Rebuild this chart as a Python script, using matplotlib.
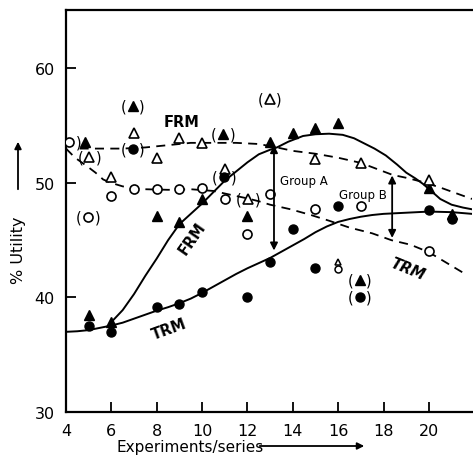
import matplotlib
matplotlib.use("Agg")
import matplotlib.pyplot as plt
import matplotlib.transforms as mtransforms
from matplotlib.patches import FancyArrowPatch

plt.rcParams['font.family'] = ['DejaVu Sans']

# ---------------- data ----------------
# filled triangles (FRM)
frm_fill_x = [4.85, 5, 6, 8, 9, 10, 12, 13, 14, 15, 16, 20, 21]
frm_fill_y = [53.55, 38.5, 37.9, 47.1, 46.6, 48.6, 47.1, 53.6, 54.4, 54.8, 55.2, 49.6, 47.3]
# filled circles (TRM)
trm_fill_x = [5, 6, 8, 9, 10, 12, 13, 14, 15, 16, 20, 21]
trm_fill_y = [37.5, 37.0, 39.2, 39.4, 40.5, 40.0, 43.1, 46.0, 42.6, 48.0, 47.6, 46.85]
# open triangles
frm_open_x = [6, 7, 8, 9, 10, 11, 15, 17, 20]
frm_open_y = [50.5, 54.4, 52.2, 53.9, 53.5, 51.2, 52.1, 51.75, 50.3]
# open circles
trm_open_x = [6, 7, 8, 9, 10, 11, 12, 13, 15, 17, 20]
trm_open_y = [48.9, 49.5, 49.5, 49.5, 49.6, 48.6, 45.5, 49.0, 47.7, 48.0, 44.1]
# small stacked open symbols at 16
small_tri_x, small_tri_y = [16], [43.1]
small_circ_x, small_circ_y = [16], [42.5]

# parenthesised (doubtful) points
par_fill_tri_x = [6.94, 10.93, 16.95]
par_fill_tri_y = [56.75, 54.3, 41.5]
par_fill_circ_x = [6.94, 10.97, 16.95]
par_fill_circ_y = [53.0, 50.5, 40.0]
par_open_tri_x = [5.03, 12.03, 12.99]
par_open_tri_y = [52.3, 48.6, 57.3]
par_open_circ_x = [4.98, 4.15]
par_open_circ_y = [47.0, 53.55]

# fitted curves
frm_dash_x = [4.6, 5.5, 6.5, 7.5, 8.5, 9.5, 10.5, 11.5, 12.5, 13.3, 14.0, 15.0, 16.0,
              17.0, 18.0, 18.4, 19.0, 19.7, 20.5, 21.2, 21.9]
frm_dash_y = [53.0, 53.0, 53.0, 53.1, 53.3, 53.5, 53.5, 53.5, 53.4, 53.1, 52.8, 52.55, 52.2,
              51.75, 51.0, 50.7, 50.45, 50.1, 49.6, 49.1, 48.6]
trm_dash_x = [4.0, 4.4, 4.9, 5.3, 5.64, 6.0, 6.5, 7.0, 7.5, 8.5, 9.5, 10.5, 11.4, 12.0,
              12.5, 13.0, 13.9, 14.8, 15.6, 16.5, 17.5, 18.35, 19.2, 20.0, 20.8, 21.6]
trm_dash_y = [53.0, 52.2, 51.5, 50.9, 50.3, 50.0, 49.7, 49.55, 49.45, 49.4, 49.45, 49.3,
              48.9, 48.65, 48.4, 48.1, 47.7, 47.2, 46.7, 46.1, 45.6, 45.0, 44.6, 43.95,
              43.0, 42.05]
trm_solid_x = [4.0, 4.5, 5.0, 5.5, 6.0, 6.5, 7.0, 7.5, 8.0, 8.5, 9.0, 9.5, 10.0, 10.5, 11.0,
               11.5, 12.0, 12.5, 13.0, 13.5, 14.0, 14.5, 15.0, 15.5, 16.0, 16.5, 17.0, 17.5,
               18.0, 19.0, 20.0, 21.0, 21.9]
trm_solid_y = [37.0, 37.05, 37.15, 37.35, 37.55, 37.8, 38.15, 38.5, 38.85, 39.15, 39.5,
               39.9, 40.4, 40.95, 41.5, 42.05, 42.55, 43.0, 43.45, 44.0, 44.55, 45.1, 45.7,
               46.2, 46.6, 46.85, 47.05, 47.2, 47.3, 47.4, 47.5, 47.45, 47.3]
frm_solid_x = [6.0, 6.5, 7.0, 7.5, 8.0, 8.5, 9.0, 9.5, 10.0, 10.5, 11.0, 11.5, 12.0, 12.5,
               13.0, 13.3, 13.8, 14.45, 15.0, 15.6, 16.2, 16.7, 17.2, 17.6, 18.1, 18.6,
               19.0, 19.4, 19.75, 20.1, 20.5, 21.0, 21.5, 21.9]
frm_solid_y = [37.85, 38.9, 40.3, 41.9, 43.4, 45.0, 46.4, 47.3, 48.2, 49.2, 50.2, 51.0,
               51.8, 52.5, 52.9, 53.1, 53.6, 54.1, 54.25, 54.3, 54.2, 53.9, 53.4, 53.0,
               52.4, 51.6, 50.9, 50.4, 49.9, 49.3, 48.6, 48.1, 47.85, 47.7]

group_a_x, group_a_y = [13.17, 13.17], [44.1, 53.3]
group_b_x, group_b_y = [18.38, 18.38], [45.2, 50.65]

x_ticks = [4, 6, 8, 10, 12, 14, 16, 18, 20]
y_ticks = [30, 40, 50, 60]

# ---------------- drawing ----------------
fig = plt.figure(figsize=(4.73, 4.64), dpi=100)
ax = fig.add_axes([66/473, 51/464, 406/473, 402/464])
ax.set_xlim(4, 21.9)
ax.set_ylim(30, 65.1)

lw = 1.4
dash = (0, (5, 3.5))
ax.plot(frm_dash_x, frm_dash_y, color='black', lw=1.3, linestyle=dash, zorder=2)
ax.plot(trm_dash_x, trm_dash_y, color='black', lw=1.3, linestyle=dash, zorder=2)
ax.plot(trm_solid_x, trm_solid_y, color='black', lw=lw, zorder=2)
ax.plot(frm_solid_x, frm_solid_y, color='black', lw=lw, zorder=2)

ms_t, ms_c = 7.5, 6.5
ax.plot(frm_fill_x, frm_fill_y, '^', color='black', ms=ms_t, ls='none', zorder=3)
ax.plot(trm_fill_x, trm_fill_y, 'o', color='black', ms=ms_c, ls='none', zorder=3)
ax.plot(frm_open_x, frm_open_y, '^', mfc='white', mec='black', mew=1.2, ms=ms_t, ls='none', zorder=3)
ax.plot(trm_open_x, trm_open_y, 'o', mfc='white', mec='black', mew=1.2, ms=ms_c, ls='none', zorder=3)
ax.plot(small_tri_x, small_tri_y, '^', mfc='white', mec='black', mew=1.1, ms=5, ls='none', zorder=3)
ax.plot(small_circ_x, small_circ_y, 'o', mfc='white', mec='black', mew=1.1, ms=5, ls='none', zorder=3)

ax.plot(par_fill_tri_x, par_fill_tri_y, '^', color='black', ms=ms_t, ls='none', zorder=3)
ax.plot(par_fill_circ_x, par_fill_circ_y, 'o', color='black', ms=ms_c, ls='none', zorder=3)
ax.plot(par_open_tri_x, par_open_tri_y, '^', mfc='white', mec='black', mew=1.2, ms=ms_t, ls='none', zorder=3)
ax.plot(par_open_circ_x, par_open_circ_y, 'o', mfc='white', mec='black', mew=1.2, ms=ms_c, ls='none', zorder=3)

left_off = mtransforms.offset_copy(ax.transData, fig=fig, x=-6.6, y=0, units='points')
right_off = mtransforms.offset_copy(ax.transData, fig=fig, x=6.6, y=0, units='points')
for xs, ys in [(par_fill_tri_x, par_fill_tri_y), (par_fill_circ_x, par_fill_circ_y),
               (par_open_tri_x, par_open_tri_y), (par_open_circ_x, par_open_circ_y)]:
    for x, y in zip(xs, ys):
        ax.text(x, y, '(', transform=left_off, ha='center', va='center', fontsize=10.5,
                clip_on=True, zorder=4)
        ax.text(x, y, ')', transform=right_off, ha='center', va='center', fontsize=10.5,
                clip_on=True, zorder=4)

# group arrows
for gx, gy in [(group_a_x, group_a_y), (group_b_x, group_b_y)]:
    ax.annotate('', xy=(gx[0], gy[0]), xytext=(gx[1], gy[1]),
                arrowprops=dict(arrowstyle='<|-|>', color='black', lw=1.3,
                                mutation_scale=11, shrinkA=0, shrinkB=0))
ax.text(13.45, 50.2, 'Group A', fontsize=8.5, ha='left', va='center')
ax.text(16.05, 49.0, 'Group B', fontsize=8.5, ha='left', va='center')

# curve labels
ax.text(9.09, 55.4, 'FRM', fontsize=10.5, fontweight='bold', ha='center', va='center')
ax.text(9.55, 45.2, 'FRM', fontsize=10.5, fontweight='bold', ha='center', va='center', rotation=55)
ax.text(8.55, 37.3, 'TRM', fontsize=10.5, fontweight='bold', ha='center', va='center', rotation=20)
ax.text(19.07, 42.5, 'TRM', fontsize=10.5, fontweight='bold', style='italic',
        ha='center', va='center', rotation=-22)

# axes styling
for s in ('left', 'bottom', 'top'):
    ax.spines[s].set_linewidth(1.6)
ax.spines['right'].set_visible(False)
ax.set_xticks(x_ticks)
ax.set_xticklabels([str(v) for v in x_ticks])
ax.set_yticks(y_ticks)
ax.set_yticklabels([str(v) for v in y_ticks])
ax.tick_params(direction='in', length=7, width=1.3, labelsize=11.5, pad=8)

# axis titles with arrows
fig.text(18/473, 1 - 250/464, '% Utility', rotation=90, ha='center', va='center', fontsize=11.5)
fig.add_artist(FancyArrowPatch((18/473, 1 - 193/464), (18/473, 1 - 140/464),
               transform=fig.transFigure, arrowstyle='-|>', mutation_scale=10, lw=1.3, color='black'))
fig.text(190/473, 1 - 448/464, 'Experiments/series', ha='center', va='center', fontsize=11)
fig.add_artist(FancyArrowPatch((257/473, 1 - 447/464), (367/473, 1 - 447/464),
               transform=fig.transFigure, arrowstyle='-|>', mutation_scale=10, lw=1.3, color='black'))

fig.savefig('out.png', dpi=100)
